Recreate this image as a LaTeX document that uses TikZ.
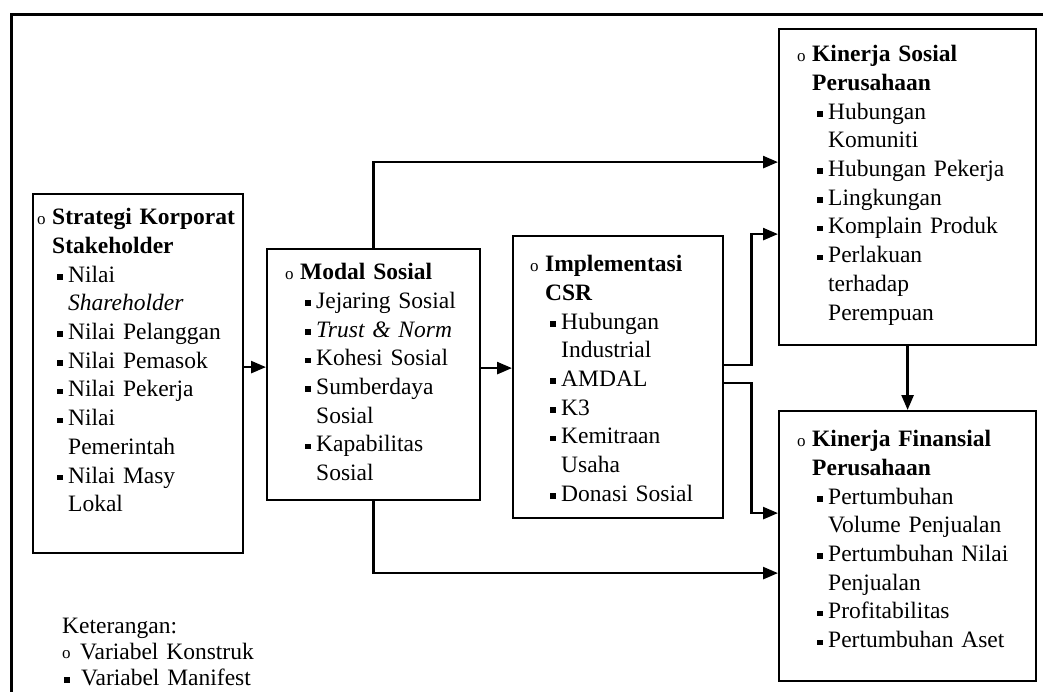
\documentclass[tikz,border=0pt]{standalone}
\usepackage{fontspec}
\setmainfont{Liberation Serif}
\usetikzlibrary{arrows.meta}
\newcommand\nl{\unskip\nobreak\hfil\break}
\newcommand\cmark{\raisebox{0.5pt}{\fontsize{17}{17}\selectfont o}}
\newcommand\mmark{\rule[2.6pt]{5.5pt}{5.5pt}}
\newcommand\ctitle[1]{\hangindent=15pt\hangafter=1\noindent\strut\makebox[15pt][l]{\cmark}\textbf{#1}\par}
\newcommand\mitem[1]{\hangindent=31pt\hangafter=1\noindent\hspace*{20pt}\makebox[11pt][l]{\mmark}#1\par}
\begin{document}
\begin{tikzpicture}[x=1pt,y=-1pt,
  box/.style={draw,line width=2.2pt,inner sep=0pt,anchor=north west},
  txt/.style={anchor=north west,inner sep=0pt,text width=300pt,align=left,font=\fontsize{23.5}{28.7}\selectfont},
  arr/.style={line width=2.6pt,-{Triangle[length=15pt,width=12pt]}},
  frame/.style={line width=3pt}]
\useasboundingbox (0,0) rectangle (1043,692);
\coordinate (fbl) at (11,692);
\coordinate (ftl) at (11,15);
\coordinate (ftr) at (1043,15);
\draw[frame] (fbl) -- (ftl) -- (ftr);

\node[box,minimum width=210pt,minimum height=359pt] (b1) at (32,193) {};
\node[box,minimum width=213pt,minimum height=251pt] (b2) at (266,248) {};
\node[box,minimum width=210pt,minimum height=282pt] (b3) at (512,235) {};
\node[box,minimum width=257pt,minimum height=316pt] (b4) at (778,28) {};
\node[box,minimum width=257pt,minimum height=270pt] (b5) at (778,410) {};

\node[txt] (t1) at (37,204.5) {\ctitle{Strategi Korporat\nl Stakeholder}%
\mitem{Nilai\nl\textit{Shareholder}}%
\mitem{Nilai Pelanggan}%
\mitem{Nilai Pemasok}%
\mitem{Nilai Pekerja}%
\mitem{Nilai\nl Pemerintah}%
\mitem{Nilai Masy\nl Lokal}};

\node[txt] (t2) at (285,259.5) {\ctitle{Modal Sosial}%
\mitem{Jejaring Sosial}%
\mitem{\textit{Trust \& Norm}}%
\mitem{Kohesi Sosial}%
\mitem{Sumberdaya\nl Sosial}%
\mitem{Kapabilitas\nl Sosial}};

\node[txt] (t3) at (530,251.5) {\ctitle{Implementasi\nl CSR}%
\mitem{Hubungan\nl Industrial}%
\mitem{AMDAL}%
\mitem{K3}%
\mitem{Kemitraan\nl Usaha}%
\mitem{Donasi Sosial}};

\node[txt] (t4) at (797,41.5) {\ctitle{Kinerja Sosial\nl Perusahaan}%
\mitem{Hubungan\nl Komuniti}%
\mitem{Hubungan Pekerja}%
\mitem{Lingkungan}%
\mitem{Komplain Produk}%
\mitem{Perlakuan\nl terhadap\nl Perempuan}};

\node[txt] (t5) at (797,426.5) {\ctitle{Kinerja Finansial\nl Perusahaan}%
\mitem{Pertumbuhan\nl Volume Penjualan}%
\mitem{Pertumbuhan Nilai\nl Penjualan}%
\mitem{Profitabilitas}%
\mitem{Pertumbuhan Aset}};

\node[txt,font=\fontsize{23.5}{26}\selectfont] (leg) at (62,615) {\strut Keterangan:\par
\noindent\makebox[18pt][l]{\cmark}Variabel Konstruk\par
\noindent\hspace*{2pt}\makebox[17pt][l]{\mmark}Variabel Manifest\par};

\draw[arr] ([yshift=6.5pt]b1.east) -- ([yshift=6.5pt]b1.east -| b2.west);
\draw[arr] ([yshift=6.5pt]b2.east) -- ([yshift=6.5pt]b2.east -| b3.west);
\draw[arr] (b2.north) |- ([yshift=25pt]b4.west);
\draw[arr] (b2.south) |- ([yshift=-27pt]b5.west);
\draw[arr] ([yshift=12pt]b3.east) -- ++(27,0) |- ([yshift=-47pt]b4.west);
\draw[arr] ([yshift=-6pt]b3.east) -- ++(27,0) |- ([yshift=33pt]b5.west);
\draw[arr] (b4.south) -- (b5.north);
\end{tikzpicture}
\end{document}
